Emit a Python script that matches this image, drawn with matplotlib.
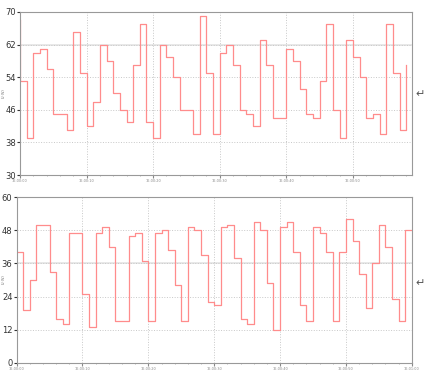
import numpy as np
import matplotlib
matplotlib.use('Agg')
import matplotlib.pyplot as plt

# top chart: one value per second, first entry is the level before the start
top_vals = [68, 53, 39, 60, 61, 56, 45, 45, 41, 65, 55, 42, 48, 62, 58, 50, 46, 43, 57, 67,
            43, 39, 62, 59, 54, 46, 46, 40, 69, 55, 40, 60, 62, 57, 46, 45, 42, 63, 57,
            44, 44, 61, 58, 51, 45, 44, 53, 67, 46, 39, 63, 59, 54, 44, 45, 40, 67, 55,
            41, 57]
top_ticks = ['16:00:00', '16:00:10', '16:00:20', '16:00:30', '16:00:40', '16:00:50']

# bottom chart
bot_vals = [40, 19, 30, 50, 50, 33, 16, 14, 47, 47, 25, 13, 47, 49, 42, 15, 15, 46, 47, 37,
            15, 47, 48, 41, 28, 15, 49, 48, 39, 22, 21, 49, 50, 38, 16, 14, 51, 48, 29,
            12, 49, 51, 40, 21, 15, 49, 47, 40, 15, 40, 52, 44, 32, 20, 36, 50, 42, 23,
            15, 48]
bot_ticks = ['16:00:00', '16:00:10', '16:00:20', '16:00:30', '16:00:40', '16:00:50', '16:01:00']

line_col = '#ff8c8c'
grid_col = '#c8c8c8'

fig = plt.figure(figsize=(4.25, 3.71), dpi=100)
ax1 = fig.add_axes([0.047, 0.528, 0.922, 0.440])
ax2 = fig.add_axes([0.039, 0.022, 0.930, 0.447])


def style(ax, yticks, xticks, xlabels, xmax):
    ax.set_yticks(yticks)
    ax.set_xticks(xticks)
    ax.set_xticklabels(xlabels, fontsize=2.5, color='#555555')
    ax.set_xticks(np.arange(0, xmax, 2), minor=True)
    ax.tick_params(axis='y', labelsize=6, length=2, pad=1, colors='#333333')
    ax.tick_params(axis='x', length=2, pad=1, colors='#888888')
    ax.tick_params(axis='x', which='minor', length=1, colors='#aaaaaa')
    ax.grid(True, linestyle=':', color=grid_col, linewidth=0.7)
    for s in ax.spines.values():
        s.set_color('#999999')
        s.set_linewidth(0.8)
    ax.set_ylabel('U (V)', fontsize=2.5, color='#555555')


# top
x1 = np.concatenate([[0], np.arange(len(top_vals) - 1)])
ax1.plot(x1, top_vals, drawstyle='steps-post', color=line_col, lw=0.9)
ax1.set_xlim(0, 58.85)
ax1.set_ylim(30, 70)
style(ax1, [30, 38, 46, 54, 62, 70], [0, 10, 20, 30, 40, 50], top_ticks, 59)
ax1.yaxis.set_label_coords(-0.035, 0.5)
ax1.axhline(62, color='#e4e4e4', lw=1.2, zorder=0)

# bottom
x2 = np.arange(len(bot_vals) + 1)
ax2.plot(x2, bot_vals + [bot_vals[-1]], drawstyle='steps-post', color=line_col, lw=0.9)
ax2.set_xlim(0, 60)
ax2.set_ylim(0, 60)
style(ax2, [0, 12, 24, 36, 48, 60], [0, 10, 20, 30, 40, 50, 60], bot_ticks, 60)
ax2.yaxis.set_label_coords(-0.028, 0.5)
ax2.axhline(36, color='#e4e4e4', lw=1.2, zorder=0)

fig.text(0.978, 0.745, '\u21b5', fontsize=8, color='#555555', va='center', ha='left')
fig.text(0.978, 0.237, '\u21b5', fontsize=8, color='#555555', va='center', ha='left')

fig.savefig('out.png', dpi=100)
